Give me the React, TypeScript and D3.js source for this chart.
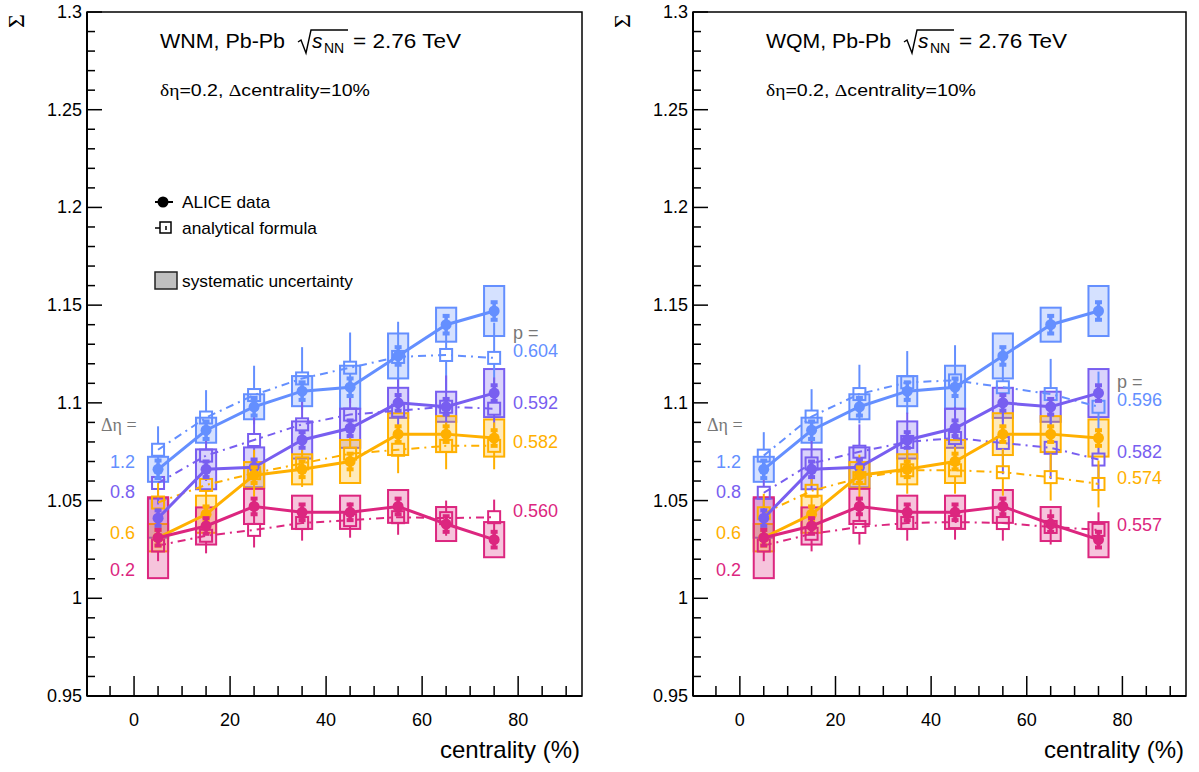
import React from "react";
import * as d3 from "d3";

// ---------- data ----------
const centrality = [5, 15, 25, 35, 45, 55, 65, 75];
const etaLabels = ["1.2", "0.8", "0.6", "0.2"];
const seriesColors = ["#648FFF", "#785EF0", "#FFB000", "#DC267F"];

// ALICE data (same in both panels)
const alice12 = [1.066, 1.086, 1.098, 1.106, 1.108, 1.124, 1.140, 1.147];
const alice08 = [1.041, 1.066, 1.067, 1.081, 1.087, 1.100, 1.098, 1.105];
const alice06 = [1.031, 1.043, 1.063, 1.066, 1.070, 1.084, 1.084, 1.082];
const alice02 = [1.031, 1.037, 1.047, 1.044, 1.044, 1.047, 1.038, 1.030];

const stat12 = [0.0045, 0.0045, 0.0045, 0.0045, 0.0045, 0.0045, 0.0045, 0.0045];
const stat08 = [0.004, 0.004, 0.004, 0.004, 0.004, 0.004, 0.004, 0.004];
const stat06 = [0.004, 0.004, 0.004, 0.004, 0.004, 0.004, 0.004, 0.004];
const stat02 = [0.004, 0.004, 0.004, 0.004, 0.004, 0.004, 0.004, 0.004];

const sys12 = [0.0064, 0.0064, 0.0064, 0.0077, 0.011, 0.0115, 0.0087, 0.0128];
const sys08 = [0.010, 0.0102, 0.0102, 0.0095, 0.010, 0.0077, 0.0077, 0.0123];
const sys06 = [0.007, 0.0095, 0.0067, 0.0077, 0.011, 0.0107, 0.0092, 0.0095];
const sys02 = [0.0207, 0.0095, 0.009, 0.0085, 0.0085, 0.0084, 0.0087, 0.009];

// analytical formula, WNM
const wnmP = ["0.604", "0.592", "0.582", "0.560"];
const wnm604 = [1.076, 1.0925, 1.104, 1.1125, 1.118, 1.1235, 1.1245, 1.123];
const wnm592 = [1.059, 1.073, 1.081, 1.089, 1.094, 1.096, 1.098, 1.097];
const wnm582 = [1.049, 1.058, 1.064, 1.069, 1.074, 1.076, 1.078, 1.078];
const wnm560 = [1.027, 1.032, 1.035, 1.0385, 1.040, 1.0415, 1.041, 1.0415];

// analytical formula, WQM
const wqmP = ["0.596", "0.582", "0.574", "0.557"];
const wqm596 = [1.073, 1.093, 1.1045, 1.1105, 1.1115, 1.108, 1.1045, 1.098];
const wqm582 = [1.054, 1.069, 1.075, 1.080, 1.082, 1.0795, 1.077, 1.071];
const wqm574 = [1.0435, 1.055, 1.0615, 1.0655, 1.0655, 1.0645, 1.062, 1.0585];
const wqm557 = [1.027, 1.033, 1.0365, 1.0385, 1.039, 1.0385, 1.0365, 1.035];

// formula uncertainties
const ferr12 = [0.012, 0.014, 0.015, 0.016, 0.018, 0.018, 0.018, 0.018];
const ferr08 = [0.011, 0.013, 0.014, 0.015, 0.016, 0.016, 0.016, 0.016];
const ferr06 = [0.010, 0.011, 0.012, 0.012, 0.012, 0.012, 0.012, 0.012];
const ferr02 = [0.008, 0.009, 0.009, 0.009, 0.009, 0.009, 0.009, 0.009];

const xTicks = [0, 20, 40, 60, 80];
const yTicks = [0.95, 1, 1.05, 1.1, 1.15, 1.2, 1.25, 1.3];
const yTickLabels = ["0.95", "1", "1.05", "1.1", "1.15", "1.2", "1.25", "1.3"];

// ---------- layout ----------
const W = 1199;
const H = 772;
const TOP = 12;
const BOTTOM = 696;
const X_DOMAIN: [number, number] = [-9.8, 93.3];
const SANS = "'Liberation Sans', Arial, Helvetica, sans-serif";
const SERIF = "'Liberation Serif', 'Times New Roman', serif";

const aliceVals = [alice12, alice08, alice06, alice02];
const statVals = [stat12, stat08, stat06, stat02];
const sysVals = [sys12, sys08, sys06, sys02];
const ferrVals = [ferr12, ferr08, ferr06, ferr02];

function hexA(hex: string, a: number) {
  const c = d3.color(hex)!.rgb();
  return `rgba(${c.r},${c.g},${c.b},${a})`;
}

type PanelProps = {
  x0: number;
  x1: number;
  model: string;
  formula: number[][];
  pLabels: string[];
  pLabelY: number[];
  pHeaderY: number;
  legend: boolean;
};

function Panel({ x0, x1, model, formula, pLabels, pLabelY, pHeaderY, legend }: PanelProps) {
  const xs = d3.scaleLinear().domain(X_DOMAIN).range([x0, x1]);
  const ys = d3.scaleLinear().domain([0.95, 1.3]).range([BOTTOM, TOP]);
  const line = d3
    .line<number>()
    .x((_, i) => xs(centrality[i]))
    .y((d) => ys(d));

  const minorX = d3.range(-5, 93, 5).filter((v) => v % 20 !== 0);
  const minorY = d3
    .range(0, 35)
    .map((i) => 0.95 + i * 0.01)
    .filter((v) => Math.abs((v - 0.95) / 0.05 - Math.round((v - 0.95) / 0.05)) > 0.01);
  const boxHalf = 2.1;
  const sq = 12;

  const tx = x0 + 73; // title x
  const etaX = x0 + 14;
  const pX = x1 - 69;

  return (
    <g>
      {/* systematic boxes */}
      {aliceVals.map((vals, s) => (
        <g key={"box" + s}>
          {vals.map((v, i) => (
            <rect
              key={i}
              x={xs(centrality[i] - boxHalf)}
              y={ys(v + sysVals[s][i])}
              width={xs(centrality[i] + boxHalf) - xs(centrality[i] - boxHalf)}
              height={ys(v - sysVals[s][i]) - ys(v + sysVals[s][i])}
              fill={hexA(seriesColors[s], 0.27)}
              stroke={seriesColors[s]}
              strokeWidth={2}
            />
          ))}
        </g>
      ))}

      {/* analytical formula */}
      {formula.map((vals, s) => (
        <g key={"f" + s} stroke={seriesColors[s]} fill="none">
          <path d={line(vals) || ""} strokeWidth={2} strokeDasharray="8 5 2 5" />
          {vals.map((v, i) => {
            const cx = xs(centrality[i]);
            const cy = ys(v);
            const e = ferrVals[s][i];
            return (
              <g key={i}>
                <line x1={cx} x2={cx} y1={ys(v + e)} y2={cy - sq / 2} strokeWidth={2} />
                <line x1={cx} x2={cx} y1={cy + sq / 2} y2={ys(v - e)} strokeWidth={2} />
                <rect x={cx - sq / 2} y={cy - sq / 2} width={sq} height={sq} strokeWidth={2} />
              </g>
            );
          })}
        </g>
      ))}

      {/* ALICE data */}
      {aliceVals.map((vals, s) => (
        <g key={"d" + s} stroke={seriesColors[s]} fill={seriesColors[s]}>
          <path d={line(vals) || ""} strokeWidth={3} fill="none" />
          {vals.map((v, i) => {
            const cx = xs(centrality[i]);
            const e = statVals[s][i];
            const yt = ys(v + e);
            const yb = ys(v - e);
            return (
              <g key={i}>
                <line x1={cx} x2={cx} y1={yt} y2={yb} strokeWidth={3.5} />
                <rect x={cx - 3.5} y={yt - 2} width={7} height={4} stroke="none" />
                <rect x={cx - 3.5} y={yb - 2} width={7} height={4} stroke="none" />
                <circle cx={cx} cy={ys(v)} r={5.5} stroke="none" />
              </g>
            );
          })}
        </g>
      ))}

      {/* frame */}
      <rect x={x0} y={TOP} width={x1 - x0} height={BOTTOM - TOP} fill="none" stroke="#000" strokeWidth={1.5} />
      <line x1={x0} x2={x0} y1={TOP} y2={BOTTOM} stroke="#000" strokeWidth={2} />
      <line x1={x0} x2={x1} y1={BOTTOM} y2={BOTTOM} stroke="#000" strokeWidth={2} />

      {/* x ticks */}
      {xTicks.map((t) => (
        <g key={"xt" + t}>
          <line x1={xs(t)} x2={xs(t)} y1={BOTTOM} y2={BOTTOM - 20} stroke="#000" strokeWidth={1.5} />
          <text x={xs(t)} y={BOTTOM + 30} textAnchor="middle" fontFamily={SANS} fontSize={18}>
            {t}
          </text>
        </g>
      ))}
      {minorX.map((t) => (
        <line key={"xm" + t} x1={xs(t)} x2={xs(t)} y1={BOTTOM} y2={BOTTOM - 10} stroke="#000" strokeWidth={1.5} />
      ))}

      {/* y ticks */}
      {yTicks.map((t, i) => (
        <g key={"yt" + t}>
          <line x1={x0} x2={x0 + 15} y1={ys(t)} y2={ys(t)} stroke="#000" strokeWidth={1.5} />
          <text x={x0 - 5} y={ys(t) + 6} textAnchor="end" fontFamily={SANS} fontSize={18}>
            {yTickLabels[i]}
          </text>
        </g>
      ))}
      {minorY.map((t) => (
        <line key={"ym" + t.toFixed(3)} x1={x0} x2={x0 + 8} y1={ys(t)} y2={ys(t)} stroke="#000" strokeWidth={1.5} />
      ))}

      {/* axis titles */}
      <text x={x1 - 2} y={758} textAnchor="end" fontFamily={SANS} fontSize={24}>
        centrality (%)
      </text>
      <text
        transform={`translate(${x0 - 63},${TOP + 9}) rotate(-90)`}
        textAnchor="middle"
        fontFamily={SERIF}
        fontSize={24}
      >
        Σ
      </text>

      {/* title */}
      <text x={tx} y={48} fontFamily={SANS} fontSize={21} textLength={125} lengthAdjust="spacingAndGlyphs">
        {model}, Pb-Pb
      </text>
      <path
        d={`M${tx + 138},42 L${tx + 141},40 L${tx + 146},53 L${tx + 151},30 L${tx + 188},30`}
        fill="none"
        stroke="#000"
        strokeWidth={1.4}
      />
      <text x={tx + 152} y={48} fontFamily={SANS} fontSize={21} fontStyle="italic">
        s
      </text>
      <text x={tx + 164} y={53} fontFamily={SANS} fontSize={14}>
        NN
      </text>
      <text x={tx + 193} y={48} fontFamily={SANS} fontSize={21} textLength={108} lengthAdjust="spacingAndGlyphs">
        = 2.76 TeV
      </text>

      <text x={tx} y={96} fontSize={17} fontFamily={SANS} textLength={210} lengthAdjust="spacingAndGlyphs">
        <tspan fontFamily={SERIF}>δη</tspan>=0.2, <tspan fontFamily={SERIF}>Δ</tspan>centrality=10%
      </text>

      {/* Δη labels */}
      <text x={etaX} y={431} fontSize={18} fill="#777" fontFamily={SERIF}>
        Δη =
      </text>
      {etaLabels.map((l, s) => (
        <text key={l} x={etaX + 9} y={[468, 498, 539, 576][s]} fontSize={18} fill={seriesColors[s]} fontFamily={SANS}>
          {l}
        </text>
      ))}

      {/* p labels */}
      <text x={pX} y={pHeaderY + 6} fontSize={18} fill="#777" fontFamily={SANS}>
        p =
      </text>
      {pLabels.map((l, s) => (
        <text key={l + s} x={pX} y={pLabelY[s] + 6} fontSize={18} fill={seriesColors[s]} fontFamily={SANS}>
          {l}
        </text>
      ))}

      {/* legend */}
      {legend && (
        <g>
          <line x1={155} x2={173} y1={202} y2={202} stroke="#000" strokeWidth={2} />
          <circle cx={163} cy={202} r={5.5} fill="#000" />
          <text x={182} y={208} fontFamily={SANS} fontSize={17} textLength={88} lengthAdjust="spacingAndGlyphs">
            ALICE data
          </text>
          <line x1={155} x2={160} y1={228} y2={228} stroke="#000" strokeWidth={1.5} />
          <rect x={160} y={222} width={11} height={11} fill="none" stroke="#000" strokeWidth={1.5} />
          <line x1={166} x2={166} y1={226} y2={230} stroke="#000" strokeWidth={1.5} />
          <text x={182} y={234} fontFamily={SANS} fontSize={17} textLength={135} lengthAdjust="spacingAndGlyphs">
            analytical formula
          </text>
          <rect x={155} y={272} width={22} height={17} fill="#c0c0c0" stroke="#222" strokeWidth={1.5} />
          <text x={182} y={287} fontFamily={SANS} fontSize={17} textLength={171} lengthAdjust="spacingAndGlyphs">
            systematic uncertainty
          </text>
        </g>
      )}
    </g>
  );
}

export default function App() {
  return (
    <svg
      width={W}
      height={H}
      viewBox={`0 0 ${W} ${H}`}
      style={{ position: "absolute", left: 0, top: 0, background: "#fff" }}
    >
      <rect x={0} y={0} width={W} height={H} fill="#fff" />
      <Panel
        x0={87}
        x1={582}
        model="WNM"
        formula={[wnm604, wnm592, wnm582, wnm560]}
        pLabels={wnmP}
        pLabelY={[351, 403, 442, 511]}
        pHeaderY={333}
        legend={true}
      />
      <Panel
        x0={693}
        x1={1186}
        model="WQM"
        formula={[wqm596, wqm582, wqm574, wqm557]}
        pLabels={wqmP}
        pLabelY={[400, 452, 478, 525]}
        pHeaderY={382}
        legend={false}
      />
    </svg>
  );
}
